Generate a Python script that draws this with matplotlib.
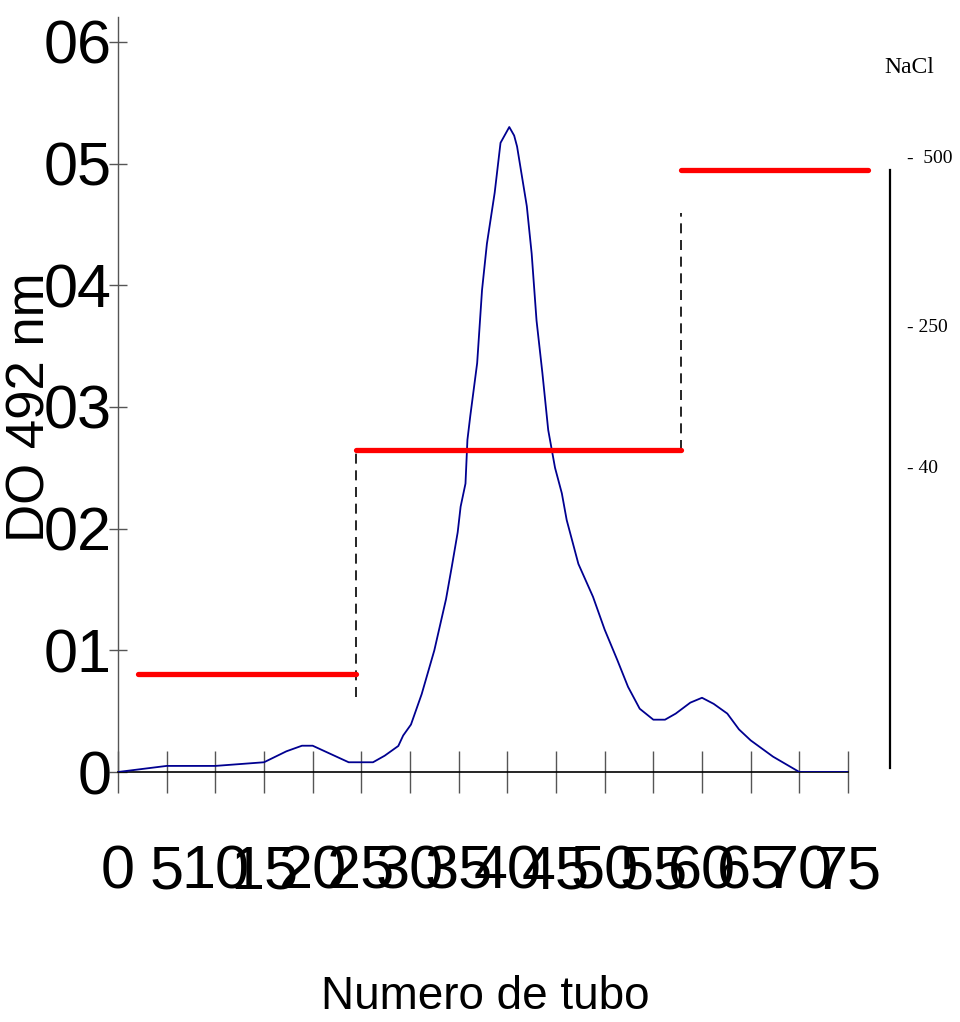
import matplotlib
matplotlib.use("Agg")
import matplotlib.pyplot as plt
from matplotlib.ticker import FuncFormatter, FixedLocator

# ---------------- data ----------------
tube = [0, 5, 10, 15, 17.3, 18.9, 20, 23.7, 26.2, 27.4, 28.8, 29.3,
        30.1, 31.2, 32.5, 33.7, 34.3, 34.9, 35.2, 35.7, 35.9, 36.2, 36.9,
        37.4, 37.9, 38.7, 39.3, 40.2, 40.7, 41, 42, 42.5, 43, 43.6, 44.2,
        44.9, 45.6, 46.1, 47.3, 48.8, 50, 51.3, 52.4, 53.6, 55, 56.2, 57.3,
        58.8, 60, 61.2, 62.6, 63.8, 65, 67.3, 70, 75]
od492 = [0, 0.005, 0.005, 0.008, 0.017, 0.0216, 0.0216, 0.008, 0.008, 0.0134,
         0.0214, 0.030, 0.039, 0.064, 0.100, 0.142, 0.169, 0.197, 0.218, 0.237,
         0.273, 0.293, 0.336, 0.396, 0.434, 0.476, 0.517, 0.530, 0.523, 0.514,
         0.465, 0.426, 0.371, 0.328, 0.281, 0.250, 0.229, 0.207, 0.171, 0.144,
         0.117, 0.092, 0.070, 0.052, 0.043, 0.043, 0.048, 0.057, 0.061, 0.056,
         0.048, 0.035, 0.026, 0.0126, 0, 0]

# NaCl step gradient (drawn on the OD scale)
step_start = [2.05, 24.45, 57.8]
step_end = [24.45, 57.8, 77.1]
step_level = [0.0805, 0.2646, 0.4947]
# dashed connectors between steps: x, y_from, y_to
conn_x = [24.45, 57.8]
conn_lo = [0.0616, 0.2646]
conn_hi = [0.2646, 0.459]

# NaCl side scale
nacl_labels = ["-  500", "- 250", "- 40"]
nacl_pos = [0.5045, 0.3656, 0.2498]
nacl_bar_x = 79.3
nacl_bar_range = [0.003, 0.495]

x_ticks = [0, 5, 10, 15, 20, 25, 30, 35, 40, 45, 50, 55, 60, 65, 70, 75]
y_ticks = [0, 0.1, 0.2, 0.3, 0.4, 0.5, 0.6]

sans = "Liberation Sans"

# ---------------- figure ----------------
fig = plt.figure(figsize=(9.6, 10.22), dpi=100)
ax = fig.add_axes([118 / 960, 250 / 1022, 730 / 960, 754.5 / 1022])

ax.plot(tube, od492, color="#000090", lw=1.3, zorder=3)

for s, e, lvl in zip(step_start, step_end, step_level):
    ax.plot([s, e], [lvl, lvl], color="#ff0000", lw=3.8,
            solid_capstyle="round", clip_on=False, zorder=4)
for cx, lo, hi in zip(conn_x, conn_lo, conn_hi):
    ax.plot([cx, cx], [lo, hi], color="black", lw=1.2,
            linestyle=(0, (6, 4)), clip_on=False, zorder=2)

ax.plot([nacl_bar_x, nacl_bar_x], nacl_bar_range, color="black", lw=1.6,
        clip_on=False)
for lab, yp in zip(nacl_labels, nacl_pos):
    ax.text(81.1, yp, lab, fontsize=14, family="Liberation Serif",
            ha="left", va="center", clip_on=False)
ax.text(81.3, 0.579, "NaCl", fontsize=17, family="Liberation Serif",
        ha="center", va="center", clip_on=False)

ax.set_xlim(0, 75)
ax.set_ylim(0, 0.62)

for sp in ["top", "right"]:
    ax.spines[sp].set_visible(False)
ax.spines["left"].set_color("#555555")
ax.spines["bottom"].set_color("black")
ax.spines["left"].set_linewidth(1.0)
ax.spines["bottom"].set_linewidth(1.2)

ax.xaxis.set_major_locator(FixedLocator(x_ticks))
ax.yaxis.set_major_locator(FixedLocator(y_ticks))
ax.xaxis.set_major_formatter(FuncFormatter(lambda v, p: f"{v:.0f}"))
ax.yaxis.set_major_formatter(
    FuncFormatter(lambda v, p: "0" if abs(v) < 1e-9 else f"{v:.1f}".replace(".", "")))

ax.tick_params(axis="x", direction="inout", length=30, width=1.0,
               color="#555555", pad=37, labelsize=44)
ax.tick_params(axis="y", direction="inout", length=13.5, width=1.0,
               color="#555555", pad=-2, labelsize=44)
for lab in ax.get_xticklabels() + ax.get_yticklabels():
    lab.set_family(sans)

ax.set_xlabel("Numero de tubo", fontsize=33, family=sans)
ax.xaxis.label.set_va("baseline")
ax.xaxis.set_label_coords(0.503, -0.314)

ax.set_ylabel("DO 492 nm", fontsize=38, family=sans)
ax.yaxis.set_label_coords(-0.086, 0.484)

fig.savefig("out.png", dpi=100)
